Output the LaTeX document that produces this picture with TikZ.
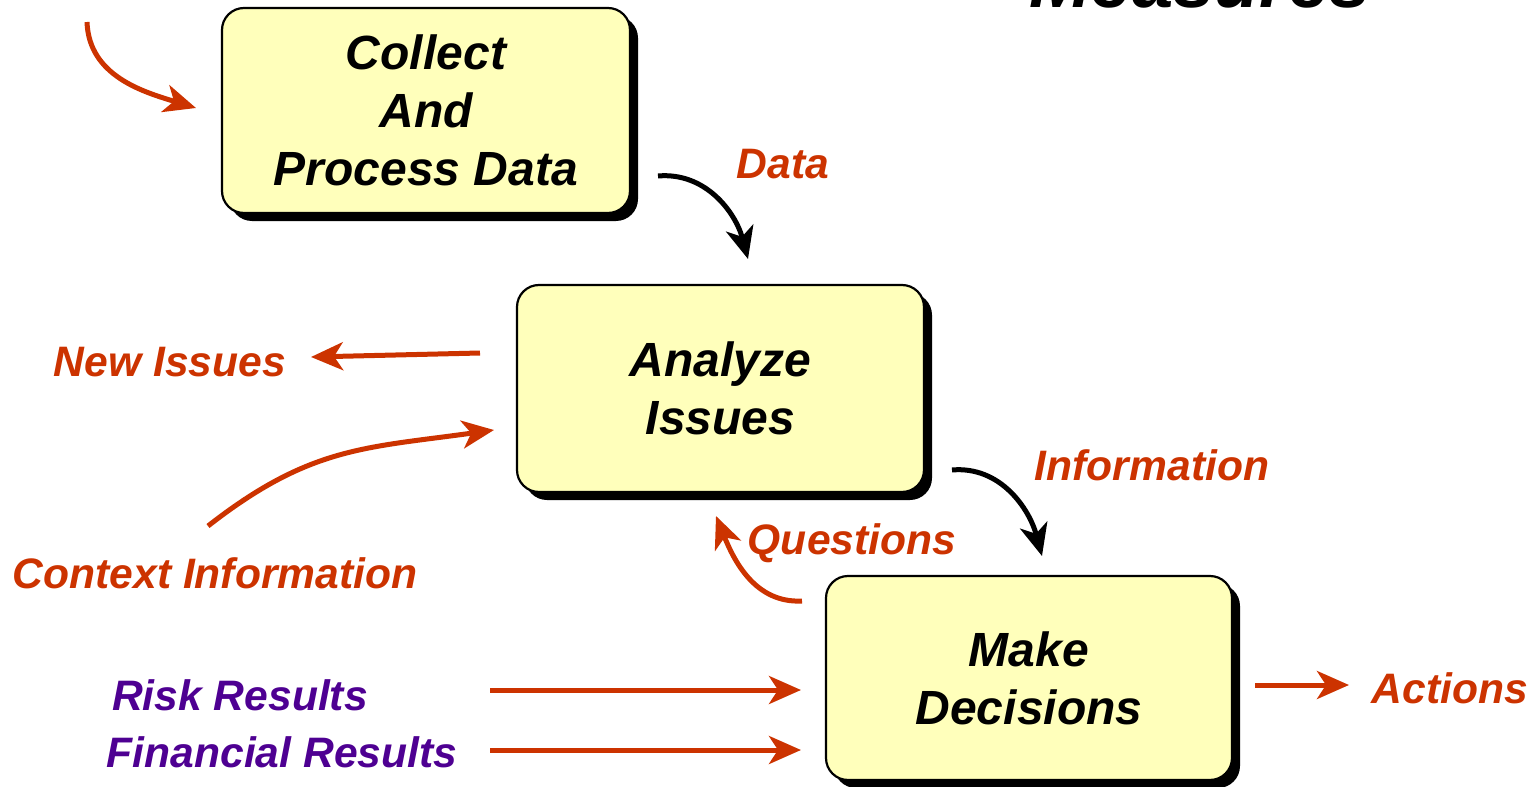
\documentclass[tikz,border=0pt]{standalone}
\usepackage{fontspec}
\setmainfont{Liberation Sans}
\usetikzlibrary{arrows.meta,shadows}
\definecolor{flowred}{HTML}{CC3300}
\definecolor{flowpurple}{HTML}{4E0092}
\definecolor{boxfill}{HTML}{FFFFBB}
\begin{document}
\begin{tikzpicture}[x=0.5pt,y=0.5pt]
    \tikzstyle{step box}=[draw,line width=1.1pt,rounded corners=11pt,fill=boxfill,
        drop shadow={shadow xshift=4pt,shadow yshift=-4pt,fill=black,opacity=1},
        align=center,font=\fontsize{24}{29}\selectfont\bfseries\itshape]
    \tikzstyle{red label}=[text=flowred,font=\fontsize{21.3}{25}\selectfont\bfseries\itshape]
    \tikzstyle{purple label}=[text=flowpurple,font=\fontsize{21.3}{25}\selectfont\bfseries\itshape]
    \tikzstyle{flow}=[line width=2.5pt,-{Stealth[length=16pt,width=14pt,inset=4.5pt]}]
    \useasboundingbox (0,0) rectangle (1539,-787);
    % title, cut at the top
    \node[anchor=base,font=\fontsize{37}{40}\selectfont\bfseries\itshape] (title) at (1200,-7) {Measures};
    % the three steps
    \node[step box,minimum width=204pt,minimum height=102.5pt] (collect) at (426,-110.5) {Collect\\And\\Process Data};
    \node[step box,minimum width=203.5pt,minimum height=103.5pt] (analyze) at (720.5,-388.5) {Analyze\\Issues};
    \node[step box,minimum width=203pt,minimum height=102pt] (decide) at (1029,-678) {Make\\Decisions};
    % labels
    \node[red label] (data) at (783,-164) {Data};
    \node[red label] (newissues) at (170,-362) {New Issues};
    \node[red label] (info) at (1152,-465) {Information};
    \node[red label] (questions) at (852,-543) {Questions};
    \node[red label] (context) at (215,-573) {Context Information};
    \node[red label] (actions) at (1450,-688) {Actions};
    \node[purple label] (risk) at (240,-695) {Risk Results};
    \node[purple label] (financial) at (282,-752) {Financial Results};
    % arrow ends
    \coordinate (in-a) at (87,-22);      \coordinate (in-b) at (196,-108);
    \coordinate (data-a) at (658,-176);  \coordinate (data-b) at (748,-259);
    \coordinate (new-a) at (480,-353);   \coordinate (new-b) at (311,-357);
    \coordinate (ctx-a) at (208,-526);   \coordinate (ctx-b) at (494,-430);
    \coordinate (info-a) at (952,-470);  \coordinate (info-b) at (1042,-556);
    \coordinate (q-a) at (802,-601);     \coordinate (q-b) at (716,-516);
    \coordinate (act-a) at (1255,-685);  \coordinate (act-b) at (1349,-685);
    \coordinate (risk-a) at (490,-690);  \coordinate (risk-b) at (801,-690);
    \coordinate (fin-a) at (490,-750);   \coordinate (fin-b) at (801,-750);
    % connectors
    \draw[flow,flowred] (in-a) to[out=-88,in=163] (in-b);
    \draw[flow,black] (data-a) to[out=5,in=105] (data-b);
    \draw[flow,flowred] (new-a) -- (new-b);
    \draw[flow,flowred] (ctx-a) to[out=38,in=188,looseness=1.1] (ctx-b);
    \draw[flow,black] (info-a) to[out=5,in=105] (info-b);
    \draw[flow,flowred] (q-a) to[out=183,in=-68] (q-b);
    \draw[flow,flowred] (act-a) -- (act-b);
    \draw[flow,flowred] (risk-a) -- (risk-b);
    \draw[flow,flowred] (fin-a) -- (fin-b);
\end{tikzpicture}
\end{document}
